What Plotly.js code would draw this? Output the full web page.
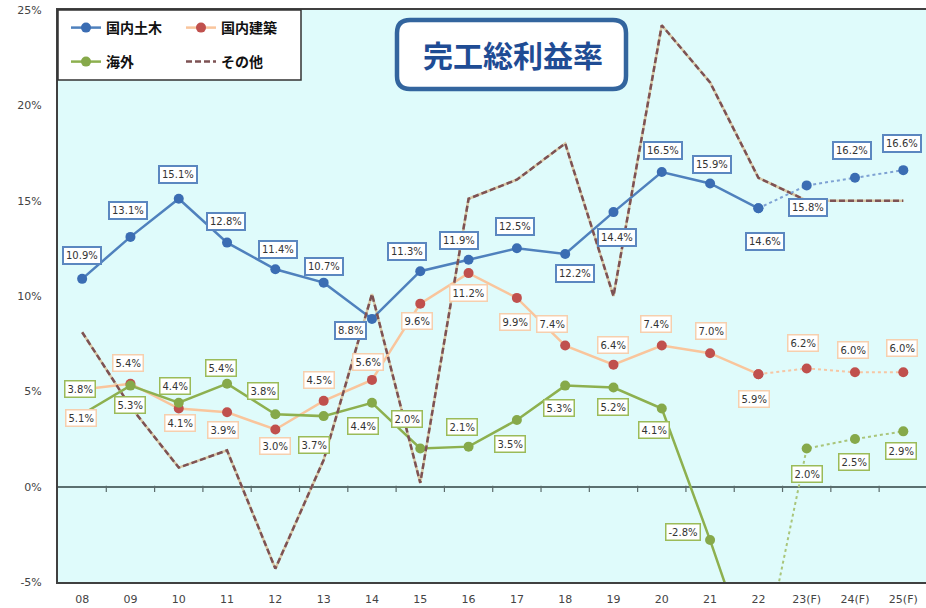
<!DOCTYPE html>
<html>
<head>
<meta charset="utf-8">
<script src="https://cdn.plot.ly/plotly-3.0.1.min.js"></script>
<style>html,body{margin:0;padding:0;background:#fff;}#chart{width:926px;height:608px;}</style>
</head>
<body>
<div id="chart"></div>
<script>
// ---- data ----
const categories = ['08','09','10','11','12','13','14','15','16','17','18','19','20','21','22','23(F)','24(F)','25(F)'];
const civil    = [10.9,13.1,15.1,12.8,11.4,10.7,8.8,11.3,11.9,12.5,12.2,14.4,16.5,15.9,14.6,15.8,16.2,16.6];
const building = [5.1,5.4,4.1,3.9,3.0,4.5,5.6,9.6,11.2,9.9,7.4,6.4,7.4,7.0,5.9,6.2,6.0,6.0];
const overseas = [3.8,5.3,4.4,5.4,3.8,3.7,4.4,2.0,2.1,3.5,5.3,5.2,4.1,-2.8,-10.2,2.0,2.5,2.9];
const other    = [8.1,4.2,1.0,1.9,-4.3,1.4,10.1,0.2,15.1,16.1,18.0,10.0,24.2,21.2,16.2,15.0,15.0,15.0];
const seriesNames = ['国内土木','国内建築','海外','その他'];
const chartTitle = '完工総利益率';
const yTickVals = [-5,0,5,10,15,20,25];
const yTickText = ['-5%','0%','5%','10%','15%','20%','25%'];
const forecastFrom = 14; // index of '22', dotted from here on
const hiddenOverseasLabels = [14];

// ---- label offsets (pixels, screen coordinates) ----
const civilOff = [[0,-23],[-2,-26],[-1,-24],[-1,-21],[3,-20],[0,-16],[-21,12],[-13,-20],[-10,-19],[-2,-22],[10,19],[4,25],[1,-22],[2,-19],[7,33],[1,22],[-3,-27],[-1,-27]];
const buildOff = [[-1,29],[-2,-21],[1,15],[-4,18],[0,17],[-5,-21],[-4,-18],[-3,17],[0,20],[-2,24],[-13,-22],[0,-20],[-6,-22],[1,-22],[-4,25],[-4,-25],[-2,-22],[-1,-24]];
const overOff  = [[-2,-25],[0,19],[-4,-17],[-6,-16],[-12,-23],[-10,29],[-9,23],[-13,-30],[-7,-20],[-7,24],[-6,22],[0,19],[-8,22],[-27,-8],[0,0],[0,25],[-1,23],[-2,20]];

const X = categories.map((c,i)=>i);
function part(arr, solid){ return arr.map((v,i)=> solid ? (i<=forecastFrom? v:null) : (i>=forecastFrom? v:null)); }

const traces = [
  {x:X, y:other, mode:'lines', showlegend:false, line:{color:'#d9c9a6', width:2.5}},
  {x:X, y:part(civil,true), name:seriesNames[0], mode:'lines+markers', legend:'legend',
   line:{color:'#4f81bd', width:2.5}, marker:{color:'#3b6db3', size:10}},
  {x:X, y:part(building,true), name:seriesNames[1], mode:'lines+markers', legend:'legend',
   line:{color:'#f9c59c', width:2.5}, marker:{color:'#c0504d', size:10}},
  {x:X, y:part(overseas,true), name:seriesNames[2], mode:'lines+markers', legend:'legend2',
   line:{color:'#8db04f', width:2.5}, marker:{color:'#86a94a', size:10}},
  {x:X, y:other, name:seriesNames[3], mode:'lines', legend:'legend2',
   line:{color:'#7d5254', width:2.5, dash:'6px,3px'}},
  {x:X, y:part(civil,false), mode:'lines+markers', showlegend:false,
   line:{color:'#7ea2d3', width:2, dash:'dot'}, marker:{color:'#3b6db3', size:10}},
  {x:X, y:part(building,false), mode:'lines+markers', showlegend:false,
   line:{color:'#f6c6a4', width:2, dash:'dot'}, marker:{color:'#c0504d', size:10}},
  {x:X, y:part(overseas,false), mode:'lines', showlegend:false,
   line:{color:'#a9c57a', width:2, dash:'dot'}},
  {x:X.slice(forecastFrom+1), y:overseas.slice(forecastFrom+1), mode:'markers', showlegend:false,
   marker:{color:'#86a94a', size:10}}
];

// ---- annotations ----
const annotations = [];
function addLabels(vals, offs, border, bw, skip){
  vals.forEach((v,i)=>{
    if (skip && skip.includes(i)) return;
    annotations.push({x:i, y:v, xref:'x', yref:'y', text:v.toFixed(1)+'%', showarrow:false,
      xanchor:'center', yanchor:'middle',
      xshift:offs[i][0], yshift:-offs[i][1], bgcolor:'#ffffff', bordercolor:border, borderwidth:bw, borderpad:2,
      font:{family:'DejaVu Sans', size:10, color:'#333'}});
  });
}
addLabels(civil, civilOff, '#5b87c0', 2, null);
addLabels(building, buildOff, '#f6cfae', 1.5, null);
addLabels(overseas, overOff, '#9bbb59', 1.5, hiddenOverseasLabels);

// pixel -> paper helpers (plot area 58..926 x 10..582)
const L=58, R=926, T=10, B=582;
const px = x => (x-L)/(R-L), py = y => (B-y)/(B-T);

annotations.push({xref:'paper', yref:'paper', x:px(513), y:py(54), xanchor:'center', yanchor:'middle',
  text:'<b>'+chartTitle+'</b>', showarrow:false,
  font:{family:'Noto Sans CJK JP', size:30, color:'#1f4c94'}});

function roundRect(x0,y0,x1,y1,r){
  const p=(x,y)=>px(x)+','+py(y);
  return 'M'+p(x0+r,y0)+' L'+p(x1-r,y0)+' Q'+p(x1,y0)+' '+p(x1,y0+r)+' L'+p(x1,y1-r)+' Q'+p(x1,y1)+' '+p(x1-r,y1)+
         ' L'+p(x0+r,y1)+' Q'+p(x0,y1)+' '+p(x0,y1-r)+' L'+p(x0,y0+r)+' Q'+p(x0,y0)+' '+p(x0+r,y0)+' Z';
}
const shapes = [
  {type:'rect', xref:'paper', yref:'paper', x0:px(58), x1:px(301), y0:py(80), y1:py(10),
   fillcolor:'#ffffff', line:{color:'#333', width:1.5}, layer:'above'},
  {type:'path', xref:'paper', yref:'paper', path:roundRect(397,20,626,89,13),
   fillcolor:'#ffffff', line:{color:'#33659e', width:4.5}, layer:'above'}
];
// small tick marks on the zero line at category boundaries
categories.slice(1).forEach((c,i)=>{
  shapes.push({type:'line', xref:'x', yref:'y', x0:i+0.5, x1:i+0.5, y0:0.05, y1:-0.28,
    line:{color:'#5b6b6b', width:1.2}, layer:'above'});
});

const legendFont = {family:'Noto Sans CJK JP', size:14, color:'#111', weight:'bold'};
const layout = {
  width:926, height:608,
  margin:{l:L, r:926-R, t:T, b:608-B},
  paper_bgcolor:'#ffffff', plot_bgcolor:'#dffbfb',
  showlegend:true,
  xaxis:{type:'linear', range:[-0.5, 17.47], tickvals:X, ticktext:categories, showgrid:false, zeroline:false,
    showline:true, linecolor:'#404040', linewidth:2, mirror:true, ticks:'', ticklabelstandoff:6,
    tickfont:{family:'DejaVu Sans', size:11, color:'#444'}},
  yaxis:{range:[-5,25], tickvals:yTickVals, ticktext:yTickText, showgrid:false, zeroline:true, zerolinecolor:'#5b7070', zerolinewidth:2,
    showline:true, linecolor:'#404040', linewidth:2, ticks:'', ticklabelstandoff:12,
    tickfont:{family:'DejaVu Sans', size:11, color:'#444'}},
  legend:{orientation:'h', x:px(66), y:py(28), xanchor:'left', yanchor:'middle', bgcolor:'rgba(0,0,0,0)',
    entrywidth:70, entrywidthmode:'pixels', itemwidth:30, traceorder:'normal', font:legendFont},
  legend2:{orientation:'h', x:px(66), y:py(62), xanchor:'left', yanchor:'middle', bgcolor:'rgba(0,0,0,0)',
    entrywidth:70, entrywidthmode:'pixels', itemwidth:30, traceorder:'normal', font:legendFont},
  annotations:annotations, shapes:shapes
};

Plotly.newPlot('chart', traces, layout, {staticPlot:true, displayModeBar:false});
</script>
</body>
</html>
